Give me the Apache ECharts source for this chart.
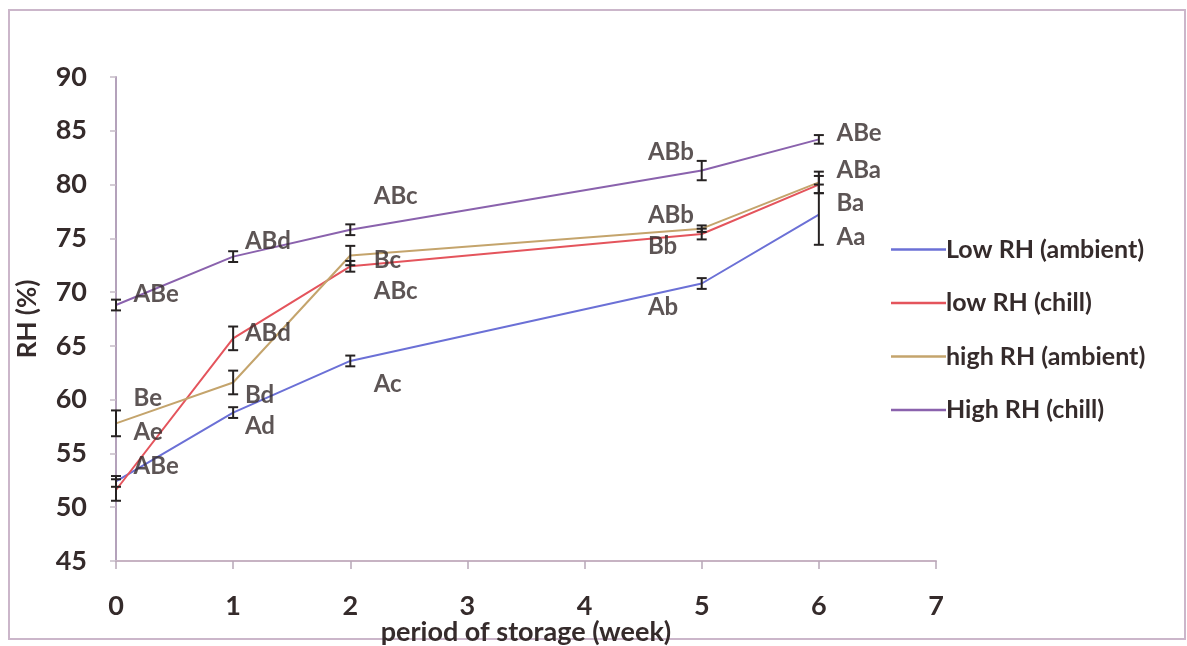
<!DOCTYPE html>
<html>
<head>
<meta charset="utf-8">
<script src="https://cdn.jsdelivr.net/npm/echarts@6/dist/echarts.min.js"></script>
<style>
  html, body { margin: 0; padding: 0; background: #fff; }
  #chart { width: 1187px; height: 646px; }
</style>
</head>
<body>
<div id="chart"></div>
<script>
// Storage weeks sampled
const weeks = [0, 1, 2, 5, 6];

// Mean RH (%) per treatment
const seriesNames = ['Low RH (ambient)', 'low RH (chill)', 'high RH (ambient)', 'High RH (chill)'];
const lowAmbient  = [52.4, 58.8, 63.6, 70.8, 77.2];
const lowChill    = [51.6, 65.7, 72.4, 75.4, 80.0];
const highAmbient = [57.8, 61.6, 73.4, 75.9, 80.2];
const highChill   = [68.8, 73.3, 75.8, 81.3, 84.2];

// Standard error (half-height of each bar)
const lowAmbientErr  = [0.5, 0.5, 0.5, 0.5, 2.8];
const lowChillErr    = [1.0, 1.1, 0.5, 0.5, 0.8];
const highAmbientErr = [1.2, 1.1, 0.9, 0.3, 1.0];
const highChillErr   = [0.5, 0.5, 0.5, 0.9, 0.4];

// Significance letters: [week, RH, text]
const letterMarks = [
  [0.15, 69.8, 'ABe'], [0.15, 60.1, 'Be'], [0.15, 57.0, 'Ae'], [0.15, 53.8, 'ABe'],
  [1.10, 74.7, 'ABd'], [1.10, 66.2, 'ABd'], [1.10, 60.4, 'Bd'], [1.10, 57.5, 'Ad'],
  [2.20, 78.9, 'ABc'], [2.20, 73.0, 'Bc'], [2.20, 70.1, 'ABc'], [2.20, 61.4, 'Ac'],
  [4.54, 83.0, 'ABb'], [4.54, 77.1, 'ABb'], [4.54, 74.3, 'Bb'], [4.54, 68.6, 'Ab'],
  [6.15, 84.8, 'ABe'], [6.15, 81.3, 'ABa'], [6.15, 78.3, 'Ba'], [6.15, 75.1, 'Aa']
];

// Axis tick labels
const yTicks = [45, 50, 55, 60, 65, 70, 75, 80, 85, 90];
const xTicks = [0, 1, 2, 3, 4, 5, 6, 7];

const colors = ['#6b70d6', '#e4545c', '#c4a46c', '#8a62ad'];
const means = [lowAmbient, lowChill, highAmbient, highChill];
const errs = [lowAmbientErr, lowChillErr, highAmbientErr, highChillErr];

const FONT = 'Lato, "Open Sans", sans-serif';
const TEXT = '#352b2b';

const lineSeries = means.map((vals, i) => ({
  name: seriesNames[i],
  type: 'line',
  data: weeks.map((w, k) => [w, vals[k]]),
  symbol: 'none',
  lineStyle: { color: colors[i], width: 2 },
  itemStyle: { color: colors[i] },
  z: 2 + i
}));

const errSeries = errs.map((e, i) => ({
  type: 'custom',
  silent: true,
  data: weeks.map((w, k) => [w, means[i][k] - e[k], means[i][k] + e[k]]),
  renderItem: (params, api) => {
    const lo = api.coord([api.value(0), api.value(1)]);
    const hi = api.coord([api.value(0), api.value(2)]);
    const cap = 5;
    const style = { stroke: '#262222', lineWidth: 2 };
    return {
      type: 'group',
      children: [
        { type: 'line', shape: { x1: lo[0], y1: lo[1], x2: hi[0], y2: hi[1] }, style },
        { type: 'line', shape: { x1: lo[0] - cap, y1: lo[1], x2: lo[0] + cap, y2: lo[1] }, style },
        { type: 'line', shape: { x1: hi[0] - cap, y1: hi[1], x2: hi[0] + cap, y2: hi[1] }, style }
      ]
    };
  },
  z: 10
}));

const letterSeries = {
  type: 'scatter',
  silent: true,
  symbolSize: 0.1,
  data: letterMarks,
  itemStyle: { color: 'transparent' },
  label: {
    show: true,
    position: 'right',
    distance: 0,
    formatter: p => p.value[2],
    fontFamily: FONT,
    fontSize: 24,
    fontWeight: 'bold',
    color: TEXT
  },
  z: 12
};

const chart = echarts.init(document.getElementById('chart'), null, { renderer: 'canvas' });
chart.setOption({
  backgroundColor: '#ffffff',
  animation: false,
  textStyle: { fontFamily: FONT },
  graphic: [{
    type: 'rect',
    shape: { x: 9, y: 10, width: 1176, height: 629 },
    style: { fill: 'none', stroke: '#cbb6ca', lineWidth: 2 },
    z: -1
  }],
  grid: { left: 116, top: 77, width: 820, height: 484, containLabel: false, outerBoundsMode: 'none' },
  legend: {
    data: seriesNames,
    orient: 'vertical',
    left: 886,
    top: 232,
    icon: 'rect',
    itemWidth: 55,
    itemHeight: 2.5,
    itemGap: 28.5,
    textStyle: { fontFamily: FONT, fontSize: 25, fontWeight: 'bold', color: TEXT, padding: [0, 0, 0, -5] }
  },
  xAxis: {
    type: 'value',
    min: xTicks[0],
    max: xTicks[xTicks.length - 1],
    interval: 1,
    name: 'period of storage (week)',
    nameLocation: 'middle',
    nameGap: 58,
    nameMoveOverlap: false,
    nameTextStyle: { fontFamily: FONT, fontSize: 27, fontWeight: 'bold', color: TEXT },
    axisLine: { show: true, lineStyle: { color: '#c7b3c3', width: 2 } },
    axisTick: { show: true, length: 8, lineStyle: { color: '#b8a8b8', width: 1.5 } },
    axisLabel: { margin: 32, fontFamily: FONT, fontSize: 27, fontWeight: 'bold', color: TEXT },
    splitLine: { show: false }
  },
  yAxis: {
    type: 'value',
    min: yTicks[0],
    max: yTicks[yTicks.length - 1],
    interval: 5,
    name: 'RH (%)',
    nameLocation: 'middle',
    nameRotate: 90,
    nameGap: 75,
    nameMoveOverlap: false,
    nameTextStyle: { fontFamily: FONT, fontSize: 26, fontWeight: 'bold', color: TEXT },
    axisLine: { show: true, lineStyle: { color: '#b4a2bb', width: 2 } },
    axisTick: { show: true, length: 6, lineStyle: { color: '#c6bcc8', width: 1.5 } },
    axisLabel: { margin: 29, fontFamily: FONT, fontSize: 27, fontWeight: 'bold', color: TEXT },
    splitLine: { show: false }
  },
  series: [...lineSeries, ...errSeries, letterSeries]
});
</script>
</body>
</html>
